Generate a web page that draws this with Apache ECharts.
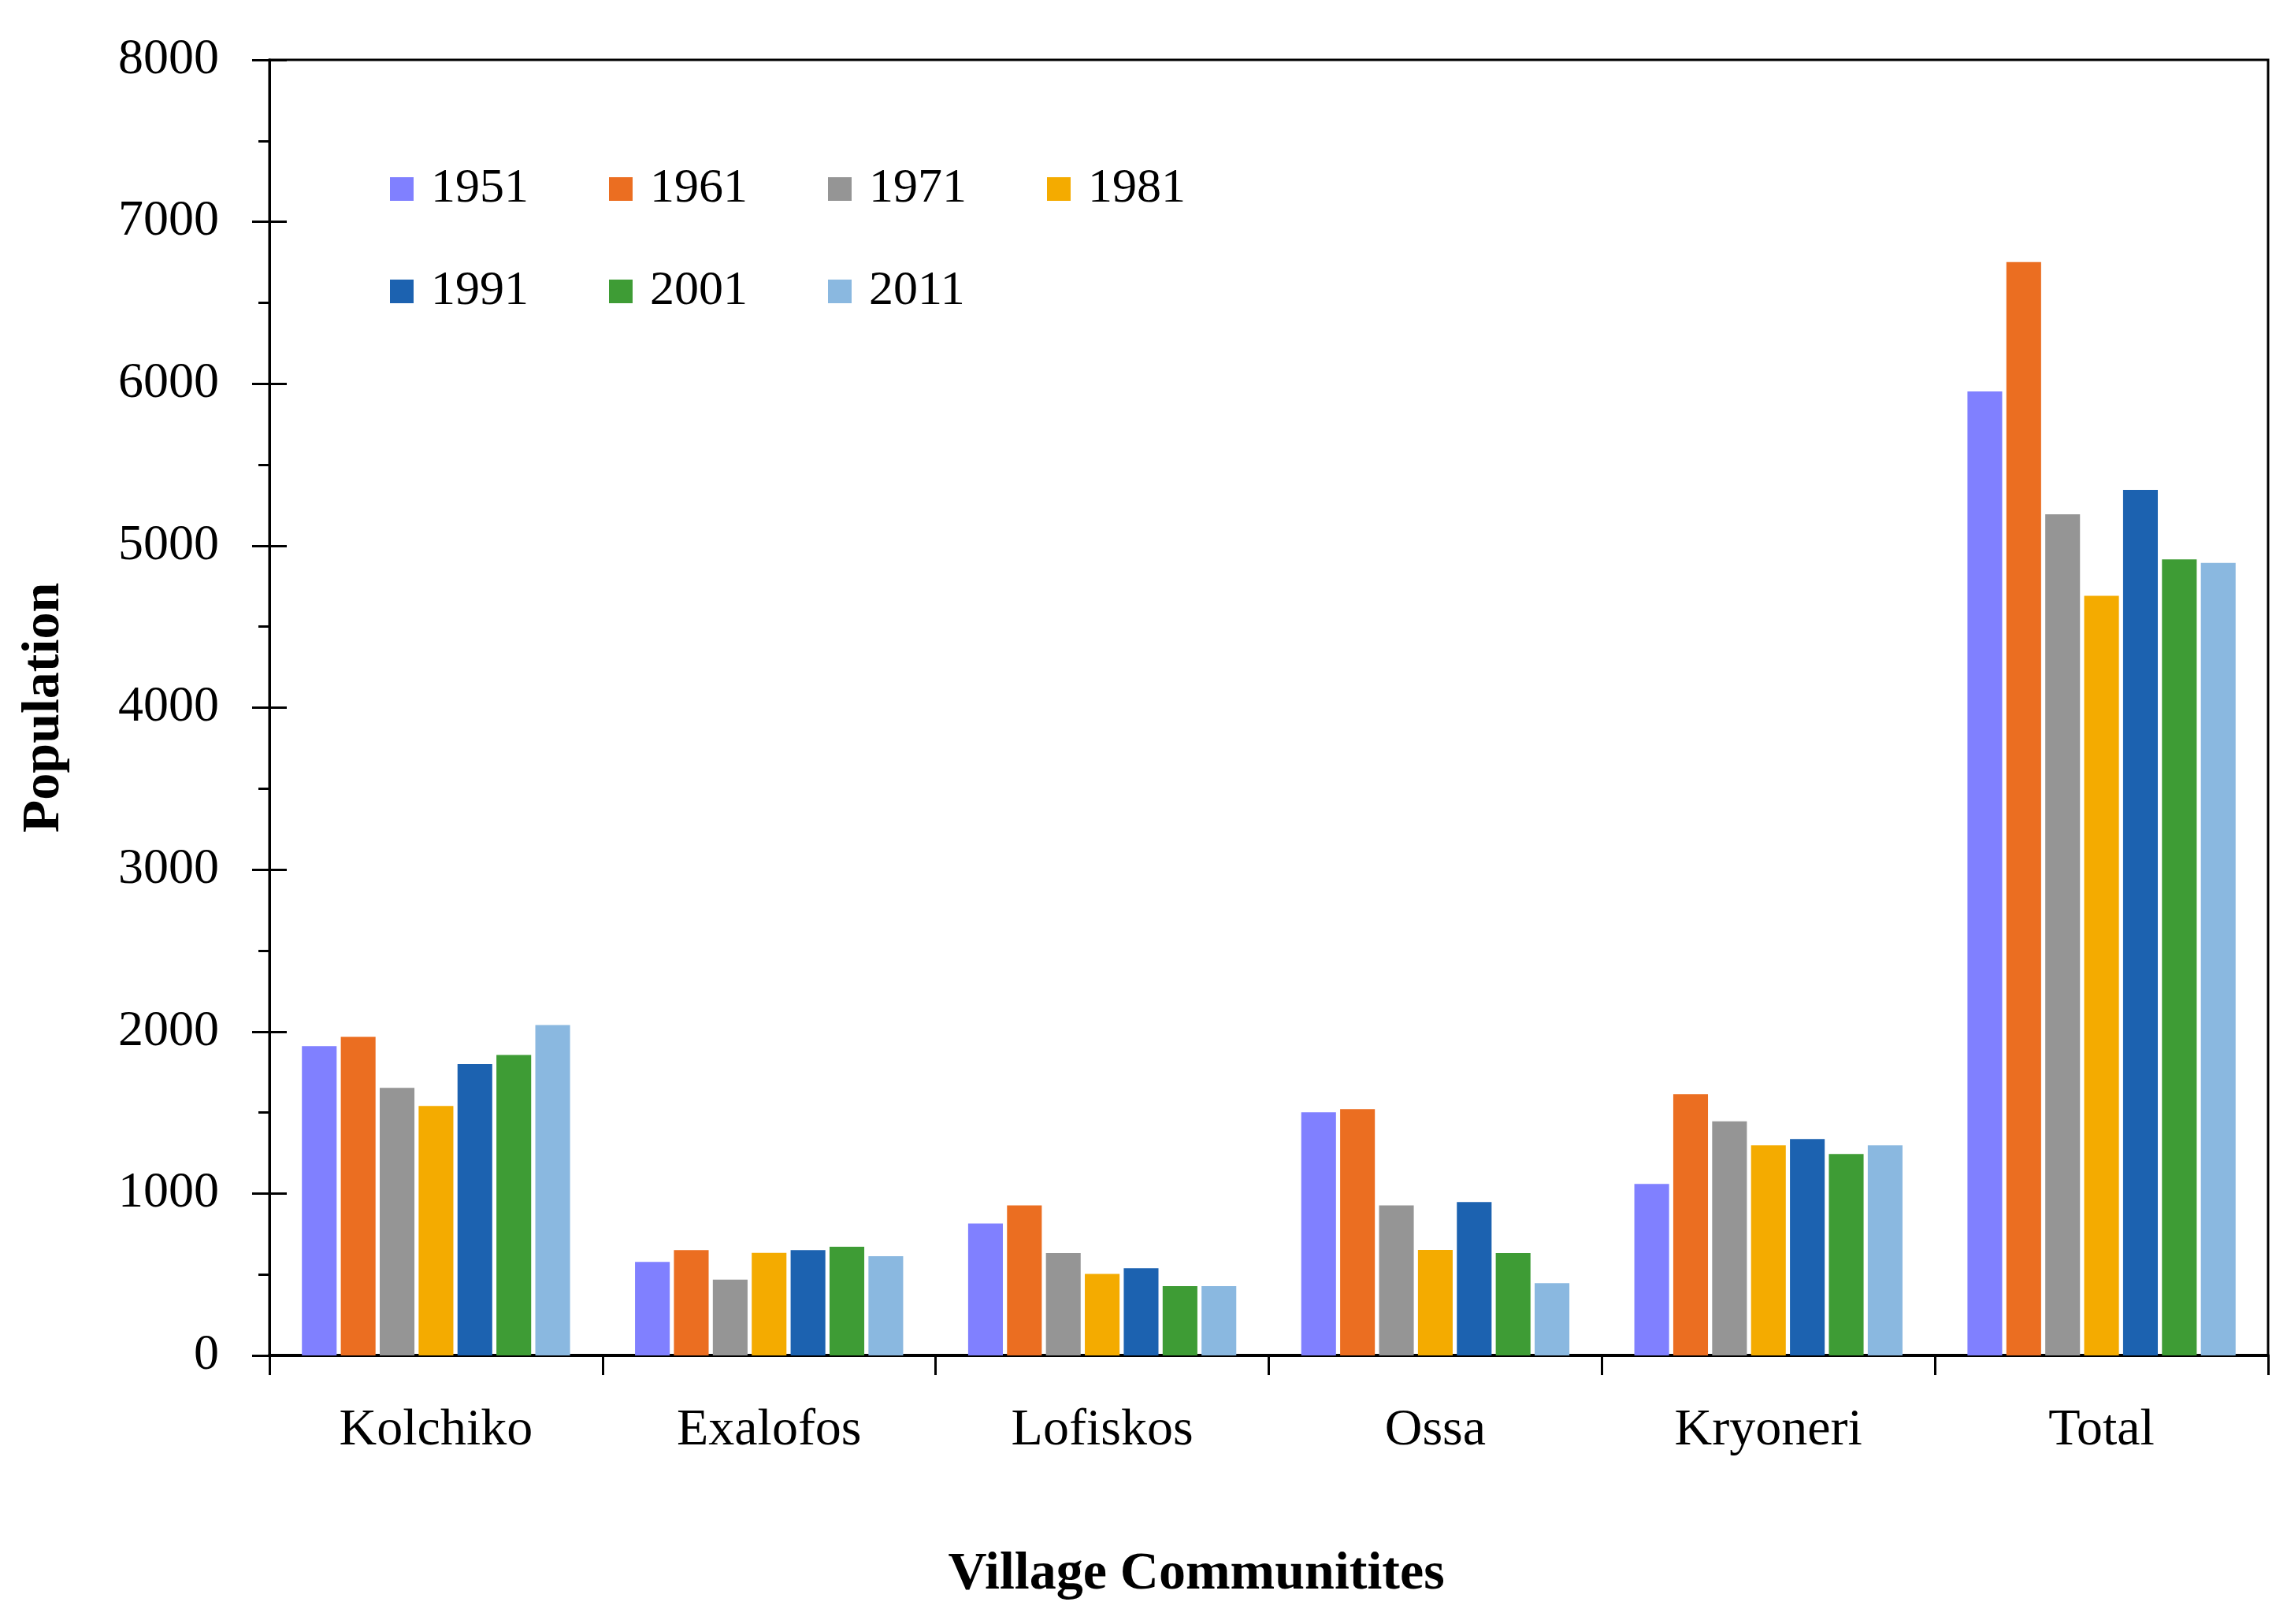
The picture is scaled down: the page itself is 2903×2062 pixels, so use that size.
<!DOCTYPE html>
<html>
<head>
<meta charset="utf-8">
<script src="https://cdn.jsdelivr.net/npm/echarts@6/dist/echarts.min.js"></script>
<style>
html,body{margin:0;padding:0;background:#fff;}
#chart{width:2903px;height:2062px;}
</style>
</head>
<body>
<div id="chart"></div>
<script>
const categories = ['Kolchiko', 'Exalofos', 'Lofiskos', 'Ossa', 'Kryoneri', 'Total'];
const years = ['1951', '1961', '1971', '1981', '1991', '2001', '2011'];
const y1951 = [1910, 578, 815, 1501, 1059, 5953];
const y1961 = [1967, 651, 927, 1521, 1613, 6751];
const y1971 = [1652, 468, 632, 927, 1446, 5194];
const y1981 = [1540, 634, 503, 652, 1297, 4691];
const y1991 = [1800, 651, 538, 947, 1336, 5345];
const y2001 = [1855, 671, 428, 632, 1244, 4915];
const y2011 = [2040, 613, 428, 446, 1297, 4894];
const seriesValues = [y1951, y1961, y1971, y1981, y1991, y2001, y2011];
const colors = ['#8080FF', '#EB6E21', '#959595', '#F4AB00', '#1C62B0', '#3E9C35', '#8AB8E0'];
const yMin = 0, yMax = 8000, yInterval = 1000;

const FONT = 'Liberation Serif';
const chart = echarts.init(document.getElementById('chart'), null, {renderer: 'canvas'});

const legendCommon = {
  orient: 'horizontal',
  itemWidth: 30,
  itemHeight: 30,
  itemGap: 102,
  icon: 'rect',
  selectedMode: false,
  textStyle: {fontFamily: FONT, fontSize: 62, lineHeight: 62, color: '#000', padding: [0, 0, 0, 17]}
};

const option = {
  backgroundColor: '#fff',
  animation: false,
  color: colors,
  grid: {left: 342, right: 24, top: 76, bottom: 341, outerBoundsMode: 'none', containLabel: false,
         show: true, borderColor: '#000', borderWidth: 3, backgroundColor: 'transparent'},
  legend: [
    Object.assign({}, legendCommon, {data: years.slice(0, 4), left: 490, top: 204}),
    Object.assign({}, legendCommon, {data: years.slice(4), left: 490, top: 334})
  ],
  xAxis: {
    type: 'category',
    data: categories,
    boundaryGap: true,
    axisLine: {show: true, lineStyle: {color: '#000', width: 4}},
    axisTick: {show: true, length: 25, lineStyle: {color: '#000', width: 3}},
    axisLabel: {fontFamily: FONT, fontSize: 66, color: '#000', margin: 63},
    splitLine: {show: false},
    name: 'Village Communitites',
    nameLocation: 'middle',
    nameGap: 244,
    nameTextStyle: {fontFamily: FONT, fontSize: 68, fontWeight: 'bold', color: '#000', padding: [0, 184, 0, 0]}
  },
  yAxis: [
    {
      type: 'value',
      min: yMin, max: yMax, interval: yInterval,
      position: 'left',
      axisLine: {show: true, lineStyle: {color: '#000', width: 3}},
      axisTick: {show: true, inside: false, length: 22, lineStyle: {color: '#000', width: 3}},
      minorTick: {show: true, splitNumber: 2, length: 14, lineStyle: {color: '#000', width: 3}},
      axisLabel: {fontFamily: FONT, fontSize: 64, color: '#000', margin: 64, formatter: v => String(v)},
      splitLine: {show: false},
      name: 'Population',
      nameLocation: 'middle',
      nameGap: 252,
      nameRotate: 90,
      nameTextStyle: {fontFamily: FONT, fontSize: 68, fontWeight: 'bold', color: '#000'}
    },
    {
      type: 'value',
      min: yMin, max: yMax, interval: yInterval,
      position: 'left',
      offset: 0,
      axisLine: {show: true, lineStyle: {color: '#000', width: 3}},
      axisTick: {show: true, inside: true, length: 22, lineStyle: {color: '#000', width: 3}},
      axisLabel: {show: false},
      splitLine: {show: false}
    }
  ],
  series: years.map((y, i) => ({
    name: y,
    type: 'bar',
    data: seriesValues[i],
    yAxisIndex: 0,
    barGap: '12%',
    barCategoryGap: '19.5%',
    itemStyle: {color: colors[i]}
  }))
};
chart.setOption(option);
</script>
</body>
</html>
